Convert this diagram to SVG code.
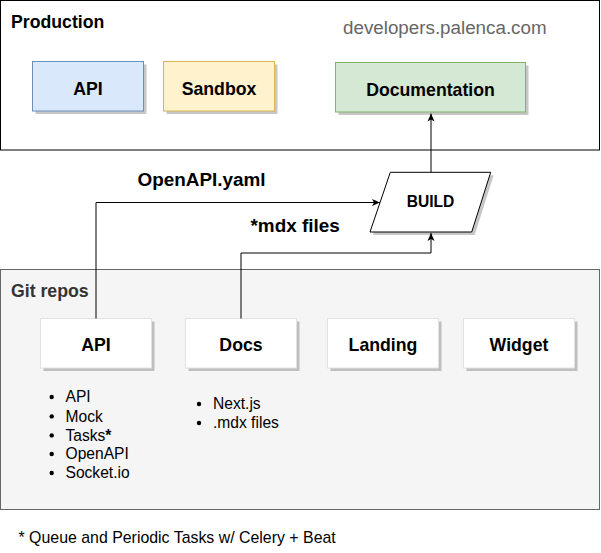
<svg xmlns="http://www.w3.org/2000/svg" width="601" height="553" viewBox="0 0 601 553">
<style>
text{font-family:"Liberation Sans",Arial,Helvetica,sans-serif;}
.lbl{font-size:17.7px;font-weight:bold;fill:#000;text-anchor:middle;}
.title{font-size:17.7px;font-weight:bold;}
.item{font-size:15.6px;fill:#000;}
.edge{fill:none;stroke:#000;stroke-width:1;}
.shadow{fill:#000;opacity:0.22;}
.repo{fill:#fff;stroke:#e2e2e2;stroke-width:1;}
.elbl{font-size:18.9px;font-weight:bold;fill:#000;}
</style>
<defs>
<marker id="arr" markerUnits="userSpaceOnUse" viewBox="0 0 8 8" refX="8" refY="4" markerWidth="8" markerHeight="8" orient="auto">
<path d="M0,0.5 L8,4 L0,7.5 L2,4 Z" fill="#000"/>
</marker>
</defs>
<rect width="601" height="553" fill="#fff"/>

<g id="production">
<rect x="0.5" y="0.5" width="599" height="149.5" fill="#fff" stroke="#000"/>
<text class="title" x="11" y="27.5" fill="#000">Production</text>
<text x="343" y="34" font-size="18.8px" fill="#666">developers.palenca.com</text>
</g>

<g id="git-repos">
<rect x="0.5" y="269.5" width="599" height="240" fill="#f5f5f5" stroke="#666"/>
<text class="title" x="11" y="296.5" fill="#333">Git repos</text>
</g>

<g id="prod-api">
<rect class="shadow" x="35.5" y="64.5" width="111" height="49.5"/>
<rect x="32.5" y="61.5" width="111" height="49.5" fill="#dae8fc" stroke="#6c8ebf"/>
<text class="lbl" x="88" y="95">API</text>
</g>
<g id="prod-sandbox">
<rect class="shadow" x="166.5" y="64.5" width="111" height="49.5"/>
<rect x="163.5" y="61.5" width="111" height="49.5" fill="#fff2cc" stroke="#d6b656"/>
<text class="lbl" x="219" y="95">Sandbox</text>
</g>
<g id="prod-documentation">
<rect class="shadow" x="338.5" y="65.5" width="190" height="49.5"/>
<rect x="335.5" y="62.5" width="190" height="49.5" fill="#d5e8d4" stroke="#82b366"/>
<text class="lbl" x="430.5" y="95.5">Documentation</text>
</g>

<g id="build">
<polygon class="shadow" points="393.3,175.3 493.7,175.3 474.7,235 373,235"/>
<polygon points="390.3,172.3 490.7,172.3 471.7,232 370,232" fill="#fff" stroke="#000"/>
<text class="lbl" x="430.5" y="206.5" style="font-size:15.6px">BUILD</text>
</g>

<g id="repo-api">
<rect class="shadow" x="43.5" y="321.5" width="111" height="49.5"/>
<rect class="repo" x="40.5" y="318.5" width="111" height="49.5"/>
<text class="lbl" x="96" y="351">API</text>
</g>
<g id="repo-docs">
<rect class="shadow" x="188.5" y="321.5" width="111" height="49.5"/>
<rect class="repo" x="185.5" y="318.5" width="111" height="49.5"/>
<text class="lbl" x="241" y="351">Docs</text>
</g>
<g id="repo-landing">
<rect class="shadow" x="330.5" y="321.5" width="111" height="49.5"/>
<rect class="repo" x="327.5" y="318.5" width="111" height="49.5"/>
<text class="lbl" x="383" y="351">Landing</text>
</g>
<g id="repo-widget">
<rect class="shadow" x="466.5" y="321.5" width="111" height="49.5"/>
<rect class="repo" x="463.5" y="318.5" width="111" height="49.5"/>
<text class="lbl" x="519" y="351">Widget</text>
</g>

<g id="api-list">
<circle cx="51.7" cy="397" r="2.2" fill="#000"/>
<circle cx="51.7" cy="416.4" r="2.2" fill="#000"/>
<circle cx="51.7" cy="435.4" r="2.2" fill="#000"/>
<circle cx="51.7" cy="454" r="2.2" fill="#000"/>
<circle cx="51.7" cy="473" r="2.2" fill="#000"/>
<text class="item" x="65.5" y="402.3">API</text>
<text class="item" x="65.5" y="421.7">Mock</text>
<text class="item" x="65.5" y="440.7">Tasks<tspan font-weight="bold">*</tspan></text>
<text class="item" x="65.5" y="459.3">OpenAPI</text>
<text class="item" x="65.5" y="478.3">Socket.io</text>
</g>
<g id="docs-list">
<circle cx="199" cy="404" r="2.2" fill="#000"/>
<circle cx="199" cy="423" r="2.2" fill="#000"/>
<text class="item" x="213" y="409.3">Next.js</text>
<text class="item" x="213" y="428.3">.mdx files</text>
</g>

<g id="footnote">
<text class="item" x="18.5" y="543.3" style="font-size:15.9px">* Queue and Periodic Tasks w/ Celery + Beat</text>
</g>

<g id="connectors">
<path class="edge" d="M431,172.3 V113.5" marker-end="url(#arr)"/>
<path class="edge" d="M96,318.5 V202.5 H380" marker-end="url(#arr)"/>
<path class="edge" d="M241,318.5 V253 H431 V233" marker-end="url(#arr)"/>
<text class="elbl" x="137.5" y="185.7">OpenAPI.yaml</text>
<text class="elbl" x="250.5" y="232.3">*mdx files</text>
</g>
</svg>
